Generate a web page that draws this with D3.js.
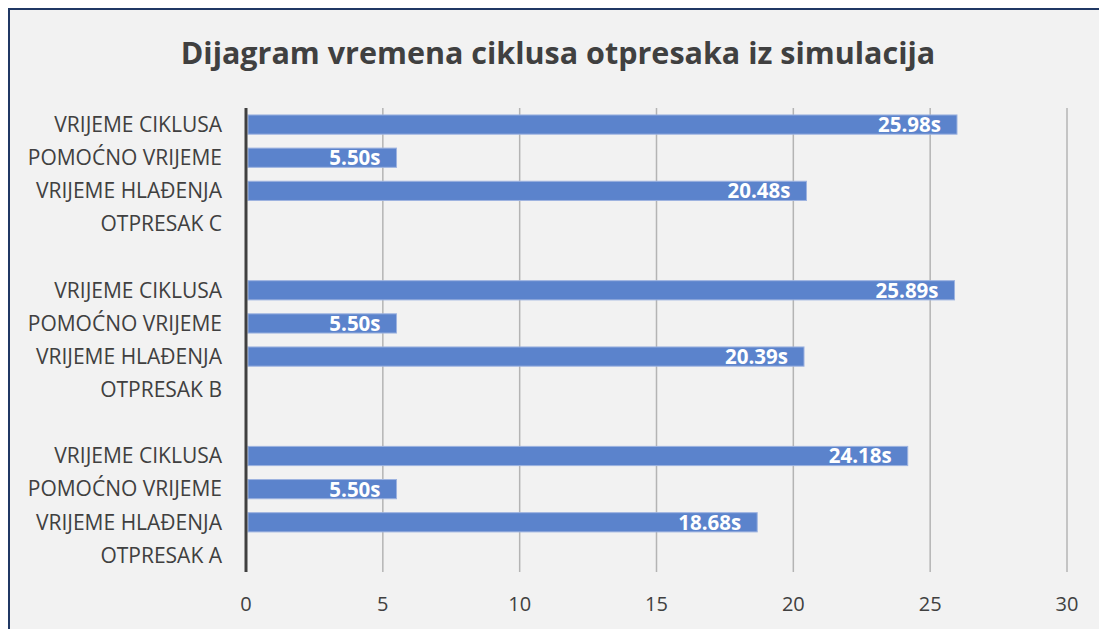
<!DOCTYPE html>
<html>
<head>
<meta charset="utf-8">
<script src="https://cdn.jsdelivr.net/npm/d3@7"></script>
<style>
  html, body { margin: 0; padding: 0; background: #ffffff; }
  svg { display: block; }
  text { font-family: "Open Sans", "Noto Sans", sans-serif; }
</style>
</head>
<body>
<svg id="chart" width="1099" height="629"></svg>
<script>
// Rows from top to bottom; empty rows separate the three parts
const rowKeys   = ["c3", "c2", "c1", "c0", "gap1", "b3", "b2", "b1", "b0", "gap2", "a3", "a2", "a1", "a0"];
const rowLabels = ["VRIJEME CIKLUSA", "POMOĆNO VRIJEME", "VRIJEME HLAĐENJA", "OTPRESAK C", "",
                   "VRIJEME CIKLUSA", "POMOĆNO VRIJEME", "VRIJEME HLAĐENJA", "OTPRESAK B", "",
                   "VRIJEME CIKLUSA", "POMOĆNO VRIJEME", "VRIJEME HLAĐENJA", "OTPRESAK A"];
// Times in seconds (null = heading row without a bar)
const rowValues = [25.98, 5.50, 20.48, null, null,
                   25.89, 5.50, 20.39, null, null,
                   24.18, 5.50, 18.68, null];
const xTicks = [0, 5, 10, 15, 20, 25, 30];
const chartTitle = "Dijagram vremena ciklusa otpresaka iz simulacija";

const svg = d3.select("#chart");

// Chart panel with dark blue frame
svg.append("rect")
  .attr("x", 9).attr("y", 9)
  .attr("width", 1200).attr("height", 700)
  .attr("fill", "#f2f2f2")
  .attr("stroke", "#203864")
  .attr("stroke-width", 2);

svg.append("text")
  .attr("x", 558).attr("y", 64)
  .attr("text-anchor", "middle")
  .attr("font-size", 30.5)
  .attr("font-weight", "bold")
  .attr("fill", "#404040")
  .text(chartTitle);

const x = d3.scaleLinear().domain([0, 30]).range([246, 1067]);
const y = d3.scaleBand().domain(rowKeys).range([108, 572]).paddingInner(0.42).paddingOuter(0.21);

// Vertical gridlines
svg.append("g")
  .selectAll("line")
  .data(xTicks.filter(t => t > 0))
  .join("line")
  .attr("x1", d => x(d)).attr("x2", d => x(d))
  .attr("y1", 108).attr("y2", 572)
  .attr("stroke", "#b4b4b4")
  .attr("stroke-width", 1.5);

// Tick labels
svg.append("g")
  .selectAll("text")
  .data(xTicks)
  .join("text")
  .attr("x", d => x(d))
  .attr("y", 611)
  .attr("text-anchor", "middle")
  .attr("font-size", 20)
  .attr("fill", "#404040")
  .text(d => d);

const rows = rowKeys.map((k, i) => ({ key: k, label: rowLabels[i], value: rowValues[i] }));

// Category labels
svg.append("g")
  .selectAll("text")
  .data(rows.filter(d => d.label))
  .join("text")
  .attr("x", 222)
  .attr("y", d => y(d.key) + y.bandwidth() / 2)
  .attr("dy", "0.35em")
  .attr("text-anchor", "end")
  .attr("font-size", 21)
  .attr("fill", "#404040")
  .text(d => d.label);

const bars = rows.filter(d => d.value != null);

svg.append("g")
  .selectAll("rect")
  .data(bars)
  .join("rect")
  .attr("x", x(0) + 2)
  .attr("y", d => y(d.key))
  .attr("width", d => x(d.value) - x(0) - 2)
  .attr("height", y.bandwidth())
  .attr("fill", "#5b83cc")
  .attr("stroke", "#9db3e0")
  .attr("stroke-width", 1);

// Value labels inside the bar ends
svg.append("g")
  .selectAll("text")
  .data(bars)
  .join("text")
  .attr("x", d => x(d.value) - 16)
  .attr("y", d => y(d.key) + y.bandwidth() / 2)
  .attr("dy", "0.36em")
  .attr("text-anchor", "end")
  .attr("font-size", 20.5)
  .attr("font-weight", "bold")
  .attr("fill", "#ffffff")
  .text(d => d.value.toFixed(2) + "s");

// Category axis line
svg.append("line")
  .attr("x1", x(0)).attr("x2", x(0))
  .attr("y1", 108).attr("y2", 572)
  .attr("stroke", "#404040")
  .attr("stroke-width", 3);
</script>
</body>
</html>
